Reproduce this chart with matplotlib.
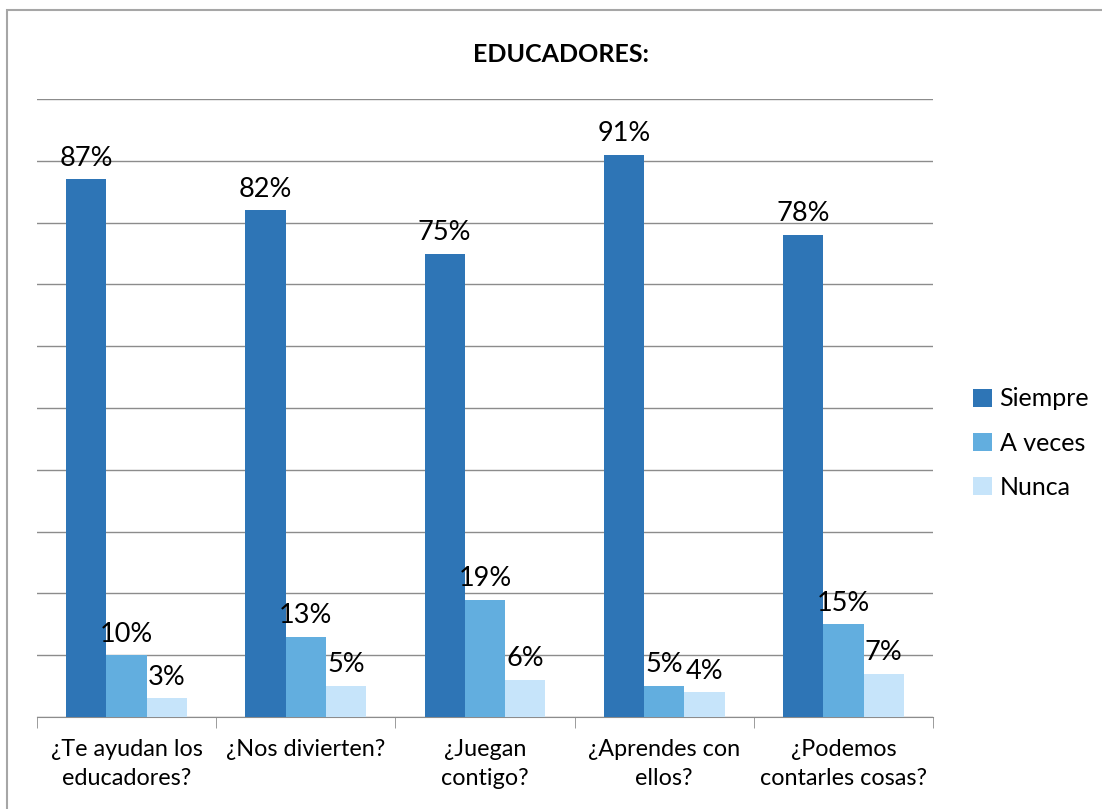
import numpy as np
import matplotlib.pyplot as plt
from matplotlib.patches import Rectangle

plt.rcParams['font.family'] = ['Lato', 'DejaVu Sans']

preguntas = ['¿Te ayudan los\neducadores?', '¿Nos divierten?', '¿Juegan\ncontigo?',
             '¿Aprendes con\nellos?', '¿Podemos\ncontarles cosas?']
siempre = [87, 82, 75, 91, 78]
a_veces = [10, 13, 19, 5, 15]
nunca = [3, 5, 6, 4, 7]

series = [('Siempre', siempre, '#2E75B6'),
          ('A veces', a_veces, '#62AEDF'),
          ('Nunca', nunca, '#C6E4FA')]

fig = plt.figure(figsize=(11.02, 8.09), dpi=100)
ax = fig.add_axes([0.0336, 0.1137, 0.8130, 0.7639])

# borde exterior del grafico (solo se ven arriba e izquierda)
fig.patches.append(Rectangle((7 / 1102, -0.05), 1.2, 1 - 10 / 809 + 0.05,
                             transform=fig.transFigure, fill=False,
                             edgecolor='#A6A6A6', linewidth=1.5))

x = np.arange(len(preguntas))
w = 0.225
for i, (nombre, vals, color) in enumerate(series):
    pos = x + (i - 1) * w
    bars = ax.bar(pos, vals, width=w, color=color, label=nombre, zorder=3)
    for b, v in zip(bars, vals):
        ax.text(b.get_x() + b.get_width() / 2, v + 1.4, f'{v}%',
                ha='center', va='bottom', fontsize=19.5, color='black')

ax.set_xlim(-0.5, len(preguntas) - 0.5)
ax.set_ylim(0, 100)
ax.set_yticks(np.arange(0, 101, 10))
ax.yaxis.grid(True, color='#8C8C8C', linewidth=1)
ax.set_axisbelow(True)
ax.tick_params(axis='y', left=False, labelleft=False)

ax.set_xticks(x)
ax.set_xticklabels(preguntas, fontsize=16.8, linespacing=1.45)
ax.set_xticks(np.arange(-0.5, len(preguntas), 1), minor=True)
ax.tick_params(axis='x', which='major', length=0, pad=16)
ax.tick_params(axis='x', which='minor', length=8, color='#8C8C8C', direction='out')

for s in ['top', 'right', 'left']:
    ax.spines[s].set_visible(False)
ax.spines['bottom'].set_color('#8C8C8C')

fig.text(561 / 1102, 1 - 54 / 809, 'EDUCADORES:', ha='center', va='center',
         fontsize=18, fontweight='bold')

ax.legend(loc='center left', bbox_to_anchor=(1.02, 0.443), frameon=False,
          fontsize=18, handlelength=0.75, handleheight=0.75, labelspacing=0.85,
          handletextpad=0.3)

fig.savefig('out.png', dpi=100)
